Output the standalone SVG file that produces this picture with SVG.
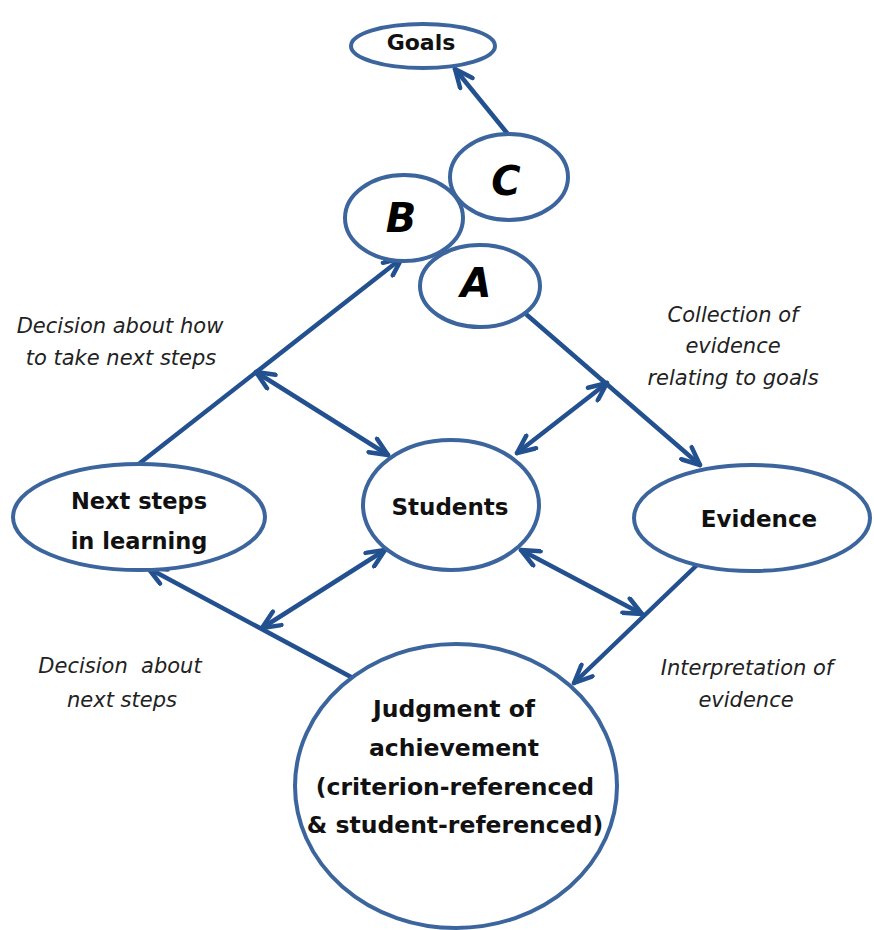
<svg xmlns="http://www.w3.org/2000/svg" width="874" height="930" viewBox="0 0 874 930">
<style>
.node{fill:#fff;stroke:#3B659C;stroke-width:4}
.lbl{font-family:"DejaVu Sans",sans-serif;font-weight:bold;fill:#111;text-anchor:middle}
.letter{font-family:"DejaVu Sans",sans-serif;font-weight:bold;font-style:italic;fill:#000;text-anchor:middle;font-size:40px}
.note{font-family:"DejaVu Sans",sans-serif;font-style:italic;fill:#222;text-anchor:middle}
.conn line{stroke:#23518F;stroke-width:4.5;stroke-linecap:round}
</style>
<defs>
<marker id="ah" viewBox="0 0 24 20" refX="21" refY="10" markerWidth="24" markerHeight="20" markerUnits="userSpaceOnUse" orient="auto-start-reverse">
<path d="M3,2 L21,10 L3,18" fill="none" stroke="#23518F" stroke-width="4.5" stroke-linecap="round" stroke-linejoin="round"/>
</marker>
</defs>
<rect width="874" height="930" fill="#fff"/>
<g class="conn" id="connectors">
<line x1="507" y1="133" x2="455" y2="69" marker-end="url(#ah)"/>
<line x1="140" y1="463" x2="402" y2="258" marker-end="url(#ah)"/>
<line x1="256" y1="372" x2="388" y2="455" marker-start="url(#ah)" marker-end="url(#ah)"/>
<line x1="527" y1="315" x2="700" y2="465" marker-end="url(#ah)"/>
<line x1="607" y1="383" x2="517" y2="453" marker-start="url(#ah)" marker-end="url(#ah)"/>
<line x1="697" y1="565" x2="574" y2="683" marker-end="url(#ah)"/>
<line x1="521" y1="550" x2="642" y2="614" marker-start="url(#ah)" marker-end="url(#ah)"/>
<line x1="351" y1="677" x2="148" y2="568" marker-end="url(#ah)"/>
<line x1="262" y1="628" x2="385" y2="550" marker-start="url(#ah)" marker-end="url(#ah)"/>
</g>
<g id="goals"><ellipse class="node" cx="423" cy="46" rx="72" ry="22"/><text class="lbl" x="421" y="50" font-size="22">Goals</text></g>
<g id="c"><ellipse class="node" cx="509" cy="177" rx="59" ry="43"/><text class="letter" x="506" y="195">C</text></g>
<g id="b"><ellipse class="node" cx="404" cy="218" rx="59" ry="43"/><text class="letter" x="401" y="232">B</text></g>
<g id="a"><ellipse class="node" cx="480" cy="286" rx="60" ry="41"/><text class="letter" x="476" y="297">A</text></g>
<g id="next"><ellipse class="node" cx="139" cy="517" rx="126" ry="53"/><text class="lbl" x="139" y="509" font-size="22.5">Next steps</text><text class="lbl" x="139" y="549" font-size="22.5">in learning</text></g>
<g id="students"><ellipse class="node" cx="451" cy="505" rx="88" ry="65"/><text class="lbl" x="450" y="515" font-size="23">Students</text></g>
<g id="evidence"><ellipse class="node" cx="752" cy="518" rx="118" ry="53"/><text class="lbl" x="759" y="527" font-size="23">Evidence</text></g>
<g id="judgment"><ellipse class="node" cx="456" cy="786" rx="161" ry="142"/>
<text class="lbl" x="454" y="717" font-size="23.5">Judgment of</text>
<text class="lbl" x="454" y="756" font-size="23.5">achievement</text>
<text class="lbl" x="455" y="795" font-size="23.5">(criterion-referenced</text>
<text class="lbl" x="455" y="833" font-size="23.5">&amp; student-referenced)</text>
</g>
<g id="labels">
<text class="note" x="120" y="333" font-size="21">Decision about how</text>
<text class="note" x="121" y="365" font-size="21">to take next steps</text>
<text class="note" x="733" y="322" font-size="21">Collection of</text>
<text class="note" x="733" y="353" font-size="21">evidence</text>
<text class="note" x="733" y="385" font-size="21">relating to goals</text>
<text class="note" x="120" y="673" font-size="21" xml:space="preserve">Decision  about</text>
<text class="note" x="122" y="707" font-size="21">next steps</text>
<text class="note" x="747" y="675" font-size="21">Interpretation of</text>
<text class="note" x="746" y="707" font-size="21">evidence</text>
</g>
</svg>
